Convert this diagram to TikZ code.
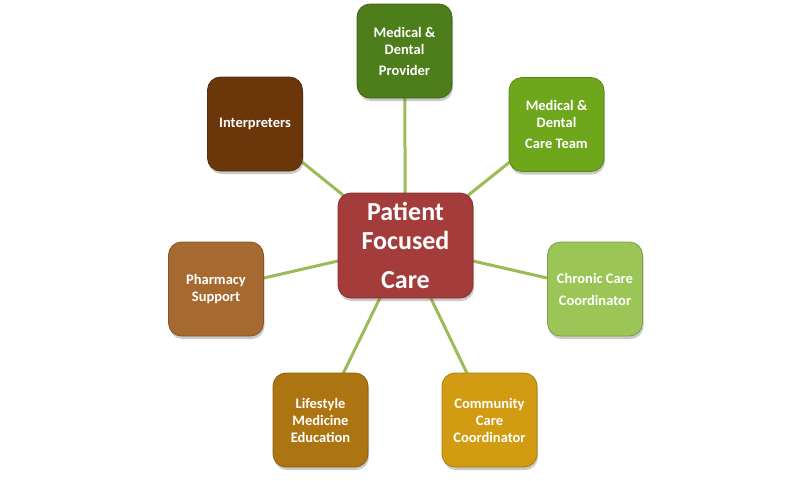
\documentclass[tikz,border=0pt]{standalone}
\usepackage{fontspec}
\setmainfont{Carlito}
\usetikzlibrary{shadows,backgrounds}
\definecolor{cred}{HTML}{A43C3C}
\definecolor{cgreenA}{HTML}{4E7D1C}
\definecolor{cgreenB}{HTML}{6EA61C}
\definecolor{cgreenC}{HTML}{9CC558}
\definecolor{cgold}{HTML}{D19C12}
\definecolor{cochre}{HTML}{AD7512}
\definecolor{ctan}{HTML}{A66A30}
\definecolor{cbrown}{HTML}{6C360B}
\definecolor{clink}{HTML}{9BBB59}
\tikzset{
  box/.style={draw=#1!80!black, line width=0.8pt, fill=#1, rounded corners=13pt,
    minimum width=95pt, minimum height=94pt, inner sep=2pt, align=center,
    text=white, font=\fontsize{14.5}{17}\selectfont\bfseries,
    drop shadow={shadow xshift=1pt, shadow yshift=-3pt, opacity=0.35, fill=black!60}},
  hub/.style={box=cred, minimum width=135pt, minimum height=105pt,
    font=\fontsize{26}{28.5}\selectfont\bfseries},
  link/.style={draw=clink, line width=3pt}
}
\begin{document}
\begin{tikzpicture}[x=1pt,y=-1pt]
\useasboundingbox (0,0) rectangle (811,480);
\node[hub]          (c)  at (405.5,245.5) {Patient\\Focused\\[11pt]Care};
\node[box=cgreenA]  (n1) at (404.5,51)  {Medical \&\\Dental\\[4pt]Provider};
\node[box=cgreenB]  (n2) at (556.5,124.5) {Medical \&\\Dental\\[4pt]Care Team};
\node[box=cgreenC]  (n3) at (595,289) {Chronic Care\\[5pt]Coordinator};
\node[box=cgold]    (n4) at (489.5,420) {Community\\Care\\Coordinator};
\node[box=cochre]   (n5) at (320.5,420) {Lifestyle\\Medicine\\Education};
\node[box=ctan]     (n6) at (216,289) {Pharmacy\\Support};
\node[box=cbrown]   (n7) at (255,124) {Interpreters};
\begin{scope}[on background layer]
\foreach \n in {n1,n2,n3,n4,n5,n6,n7}
  \draw[link] (c.center) -- (\n.center);
\end{scope}
\end{tikzpicture}
\end{document}
